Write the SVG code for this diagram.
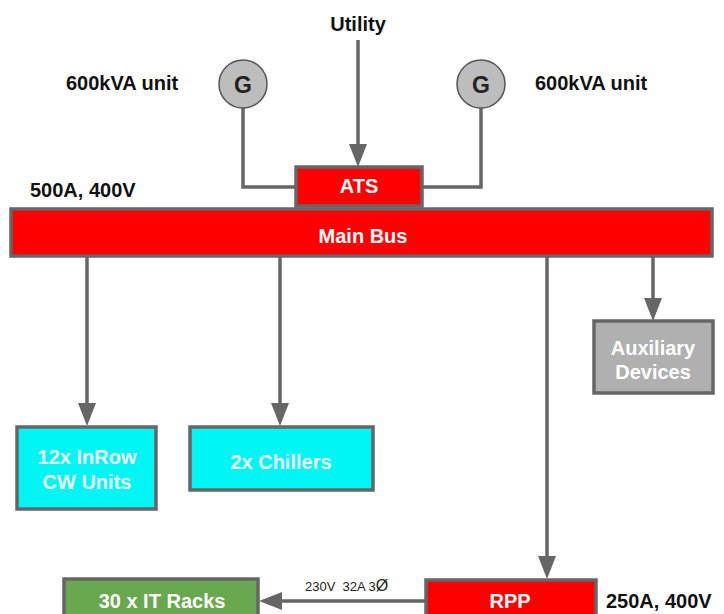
<svg xmlns="http://www.w3.org/2000/svg" width="724" height="614" viewBox="0 0 724 614">
<style>
text{font-family:"Liberation Sans",Arial,sans-serif;font-weight:bold}
.lbl{fill:#111;font-size:20px}
.in{fill:#fff;text-anchor:middle;font-size:20px}
.inc{fill:#f0ffff;text-anchor:middle;font-size:20px}
.box{stroke:#666;stroke-width:3.5}
.red{fill:#ff0000}
.wire{fill:none;stroke:#666;stroke-width:3.5}
</style>
<defs>
<marker id="ah" markerUnits="userSpaceOnUse" markerWidth="24" markerHeight="20" refX="18" refY="9" orient="auto" viewBox="0 0 24 20">
<path d="M0,0 L23,9 L0,18 Z" fill="#666"/>
</marker>
</defs>
<rect width="724" height="614" fill="#fff"/>
<g id="connectors">
<line class="wire" x1="358" y1="40" x2="358" y2="162" marker-end="url(#ah)"/>
<polyline class="wire" points="243,108 243,187 296,187"/>
<polyline class="wire" points="481,108 481,187 422,187"/>
<line class="wire" x1="87" y1="257" x2="87" y2="421" marker-end="url(#ah)"/>
<line class="wire" x1="280" y1="257" x2="280" y2="421" marker-end="url(#ah)"/>
<line class="wire" x1="547" y1="257" x2="547" y2="574" marker-end="url(#ah)"/>
<line class="wire" x1="653" y1="257" x2="653" y2="316" marker-end="url(#ah)"/>
<line class="wire" x1="426" y1="601" x2="264" y2="601" marker-end="url(#ah)"/>
</g>
<g id="utility"><text class="lbl" x="358" y="31" text-anchor="middle" font-size="22">Utility</text></g>
<g id="gen-left">
<circle cx="243" cy="84" r="24" fill="#bdbdbd" stroke="#555" stroke-width="1.5"/>
<text x="243" y="93" text-anchor="middle" font-size="23" fill="#222">G</text>
</g>
<text class="lbl" x="66" y="90">600kVA unit</text>
<g id="gen-right">
<circle cx="481" cy="84" r="24" fill="#bdbdbd" stroke="#555" stroke-width="1.5"/>
<text x="481" y="93" text-anchor="middle" font-size="23" fill="#222">G</text>
</g>
<text class="lbl" x="535" y="90">600kVA unit</text>
<g id="ats">
<rect class="box red" x="296" y="167" width="126" height="39"/>
<text class="in" x="359" y="193" font-size="16">ATS</text>
</g>
<text class="lbl" x="30" y="197">500A, 400V</text>
<g id="main-bus">
<rect class="box red" x="11" y="209" width="701" height="47"/>
<text class="in" x="363" y="243">Main Bus</text>
</g>
<g id="inrow">
<rect class="box" x="17" y="427" width="139" height="82" fill="#00f5f5"/>
<text class="inc" x="87" y="464">12x InRow</text>
<text class="inc" x="87" y="489">CW Units</text>
</g>
<g id="chillers">
<rect class="box" x="190" y="427" width="183" height="63" fill="#00f5f5"/>
<text class="inc" x="281" y="469">2x Chillers</text>
</g>
<g id="aux">
<rect class="box" x="594" y="321" width="119" height="72" fill="#b0b0b0"/>
<text class="in" x="653" y="355">Auxiliary</text>
<text class="in" x="653" y="379">Devices</text>
</g>
<g id="rpp">
<rect class="box red" x="426" y="580" width="170" height="40"/>
<text class="in" x="510" y="608">RPP</text>
</g>
<text class="lbl" x="606" y="608">250A, 400V</text>
<g id="racks">
<rect class="box" x="64" y="579" width="194" height="40" fill="#6aa84f"/>
<text class="in" x="162" y="608" fill="#eef8e8">30 x IT Racks</text>
</g>
<text x="305" y="591" font-size="13" fill="#222" style="font-weight:normal" xml:space="preserve">230V  32A 3<tspan font-size="16">Ø</tspan></text>
</svg>
